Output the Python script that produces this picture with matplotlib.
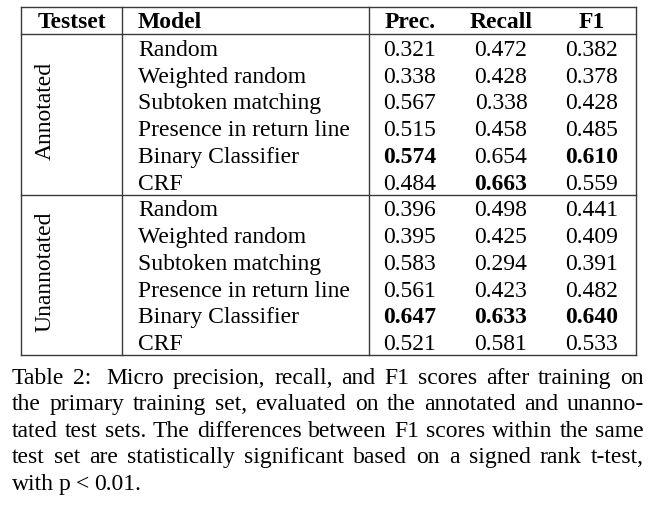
import matplotlib
matplotlib.use("Agg")
import matplotlib.pyplot as plt

plt.rcParams['font.family'] = ['Liberation Serif', 'DejaVu Serif']

# table contents
header = ["Testset", "Model", "Prec.", "Recall", "F1"]
testsets = ["Annotated", "Unannotated"]
models = ["Random", "Weighted random", "Subtoken matching",
          "Presence in return line", "Binary Classifier", "CRF"]
annotated = [[0.321, 0.472, 0.382],
             [0.338, 0.428, 0.378],
             [0.567, 0.338, 0.428],
             [0.515, 0.458, 0.485],
             [0.574, 0.654, 0.610],
             [0.484, 0.663, 0.559]]
unannotated = [[0.396, 0.498, 0.441],
               [0.395, 0.425, 0.409],
               [0.583, 0.294, 0.391],
               [0.561, 0.423, 0.482],
               [0.647, 0.633, 0.640],
               [0.521, 0.581, 0.533]]
# which cells are bold (row, col) per testset
bold_cells = [[(4, 0), (5, 1), (4, 2)],
              [(4, 0), (4, 1), (4, 2)]]

caption = ["Table 2:  Micro precision, recall, and F1 scores after training on",
           "the primary training set, evaluated on the annotated and unanno-",
           "tated test sets. The differences between F1 scores within the same",
           "test set are statistically significant based on a signed rank t-test,",
           "with p < 0.01."]

W, H = 656, 506
fig = plt.figure(figsize=(W / 100, H / 100), dpi=100)
ax = fig.add_axes([0, 0, 1, 1])
ax.set_xlim(0, W)
ax.set_ylim(H, 0)
ax.axis('off')

fs = 17
lc = '#3a3a3a'
lw = 1.0

# layout
x_left, x_right = 21, 636
x_sep1, x_sep2 = 122, 369
y_top, y_head = 8, 35
block_h = 160.5
row_h = block_h / 6
col_x = [410, 501, 592]
base_off = 7.5

# outer lines
ax.plot([x_left, x_right], [y_top, y_top], color=lc, lw=lw)
ax.plot([x_left, x_right], [y_head, y_head], color=lc, lw=lw)
y_bottom = y_head + block_h * len(testsets)
for xv in [x_left, x_sep1, x_sep2, x_right]:
    ax.plot([xv, xv], [y_top, y_bottom], color=lc, lw=lw)

# header
y_hb = 28
ax.text((x_left + x_sep1) / 2, y_hb, header[0], ha='center', va='baseline',
        fontsize=fs, fontweight='bold')
ax.text(138, y_hb, header[1], ha='left', va='baseline',
        fontsize=fs, fontweight='bold')
for j, h in enumerate(header[2:]):
    ax.text(col_x[j], y_hb, h, ha='center', va='baseline',
            fontsize=fs, fontweight='bold')

for b, (name, vals) in enumerate(zip(testsets, [annotated, unannotated])):
    y0 = y_head + b * block_h
    ax.plot([x_left, x_right], [y0 + block_h, y0 + block_h], color=lc, lw=lw)
    ax.text(45, y0 + block_h / 2 - 4, name, rotation=90,
            ha='center', va='center', fontsize=fs)
    for i, m in enumerate(models):
        yb = y0 + row_h * (i + 0.5) + base_off
        ax.text(138, yb, m, ha='left', va='baseline', fontsize=fs)
        for j in range(3):
            wt = 'bold' if (i, j) in bold_cells[b] else 'normal'
            ax.text(col_x[j], yb, f"{vals[i][j]:.3f}", ha='center', va='baseline',
                    fontsize=fs, fontweight=wt)

# caption, justified by hand (extra space after "Table 2:")
cap_l, cap_r = 12, 644
cap_y = [384, 410, 437, 463, 490]
renderer = fig.canvas.get_renderer()
for k, line in enumerate(caption):
    words = line.split()
    extra = [6 if w == "2:" else 0 for w in words]
    texts = [ax.text(0, cap_y[k], w, ha='left', va='baseline', fontsize=fs) for w in words]
    widths = [t.get_window_extent(renderer).width for t in texts]
    if k < len(caption) - 1:
        gap = (cap_r - cap_l - sum(widths) - sum(extra)) / (len(words) - 1)
    else:
        gap = 5
    x = cap_l
    for t, w, e in zip(texts, widths, extra):
        t.set_x(x)
        x += w + gap + e

fig.savefig("out.png", dpi=100)
